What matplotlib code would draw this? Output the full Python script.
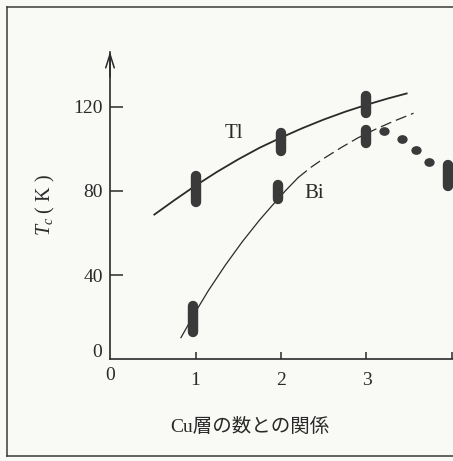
import matplotlib
matplotlib.use('Agg')
import matplotlib.pyplot as plt
from matplotlib.path import Path
from matplotlib.transforms import Affine2D
from matplotlib.lines import Line2D

# ---------------- data ----------------
tl_curve_x = [0.51, 0.75, 1.0, 1.25, 1.5, 1.75, 2.0, 2.25, 2.5, 2.75, 3.0, 3.25, 3.48]
tl_curve_t = [68.5, 75.5, 82.5, 89.0, 95.0, 100.5, 105.3, 109.8, 113.9, 117.6, 120.9, 123.9, 126.4]

bi_solid_x = [0.83, 1.0, 1.15, 1.35, 1.55, 1.75, 1.9, 2.05, 2.2]
bi_solid_t = [10.3, 22.5, 32.6, 44.8, 56.0, 66.2, 73.2, 80.0, 86.3]
bi_dash_x = [2.2, 2.35, 2.5, 2.7, 2.9, 3.1, 3.3, 3.55]
bi_dash_t = [86.3, 91.2, 95.4, 100.5, 105.2, 109.2, 112.8, 116.9]

tl_bar_x = [1.0, 2.0, 3.0]
tl_bar_lo = [72.4, 96.3, 114.6]
tl_bar_hi = [89.6, 110.0, 127.6]

bi_bar_x = [0.97, 1.97, 3.0, 3.95]
bi_bar_lo = [10.3, 73.8, 100.3, 80.0]
bi_bar_hi = [27.8, 85.5, 111.4, 94.8]

dots_x = [3.21, 3.42, 3.58, 3.73]
dots_t = [108.6, 104.8, 99.5, 93.8]

x_ticks = [1, 2, 3, 4]
x_tick_labels = ['1', '2', '3', '']
y_ticks = [40, 80, 120]
y_tick_labels = ['40', '80', '120']

x_label = 'Cu層の数との関係'
y_label = r'$T_c$ ( K )'
label_tl = 'Tl'
label_bi = 'Bi'

# ---------------- style ----------------
paper = '#f9f9f6'
ink = '#2a2a2a'
mark = '#3a3a3a'
serif = ['Liberation Serif', 'DejaVu Serif']

plt.rcParams['font.family'] = serif
plt.rcParams['mathtext.fontset'] = 'custom'
plt.rcParams['mathtext.rm'] = 'Liberation Serif'
plt.rcParams['mathtext.it'] = 'Liberation Serif:italic'

W_PX, H_PX = 453, 461
fig = plt.figure(figsize=(W_PX / 100, H_PX / 100), dpi=100, facecolor=paper)

x0_px, y0_px, top_px = 110, 359.3, 51.7
ax = fig.add_axes([x0_px / W_PX, (H_PX - y0_px) / H_PX,
                   (W_PX - x0_px) / W_PX, (y0_px - top_px) / H_PX])
ax.set_facecolor('none')
ax.set_xlim(0, (W_PX - x0_px) / 85.5)
ax.set_ylim(0, (y0_px - top_px) / 2.105)

for s in ['top', 'right']:
    ax.spines[s].set_visible(False)
for s in ['left', 'bottom']:
    ax.spines[s].set_color(ink)
    ax.spines[s].set_linewidth(1.2)

ax.set_xticks(x_ticks)
ax.set_xticklabels(x_tick_labels)
ax.set_yticks(y_ticks)
ax.set_yticklabels(y_tick_labels)
ax.tick_params(axis='x', direction='in', length=5, width=1.1, pad=9.5,
               labelsize=14, colors=ink)
ax.tick_params(axis='y', direction='in', length=9.5, width=1.1, pad=5,
               labelsize=14, colors=ink)

# zero labels
ax.annotate('0', xy=(0, 0), xycoords='data', xytext=(-13, 7),
            textcoords='offset pixels', ha='center', va='center',
            fontsize=14, color=ink, annotation_clip=False)
ax.annotate('0', xy=(0, 0), xycoords='data', xytext=(0, -16),
            textcoords='offset pixels', ha='center', va='center',
            fontsize=14, color=ink, annotation_clip=False)

# arrow on y axis
ymax = ax.get_ylim()[1]
ax.annotate('', xy=(0, ymax), xytext=(0, ymax - 12), xycoords='data',
            arrowprops=dict(arrowstyle='->,head_length=0.7,head_width=0.22',
                            lw=1.1, color=ink, mutation_scale=14,
                            shrinkA=0, shrinkB=0),
            annotation_clip=False)

# curves
ax.plot(tl_curve_x, tl_curve_t, color=ink, lw=1.3, solid_capstyle='butt')
ax.plot(bi_solid_x, bi_solid_t, color=ink, lw=0.9)
ax.plot(bi_dash_x, bi_dash_t, color=ink, lw=0.9, dashes=(9, 4))

# capsule bars
bar_lw = 7.5
cap_px = bar_lw / 2 * fig.dpi / 72
px_per_unit = ax.transData.transform((0, 1))[1] - ax.transData.transform((0, 0))[1]
cap = cap_px / px_per_unit
for xs, los, his in [(tl_bar_x, tl_bar_lo, tl_bar_hi), (bi_bar_x, bi_bar_lo, bi_bar_hi)]:
    for x, lo, hi in zip(xs, los, his):
        ax.plot([x, x], [lo + cap, hi - cap], color=mark, lw=bar_lw,
                solid_capstyle='round', clip_on=False)

# elliptical dots
ell = Path.unit_circle().transformed(Affine2D().scale(1.0, 0.85))
ax.plot(dots_x, dots_t, ls='none', marker=ell, markersize=7.4,
        color=mark, markeredgewidth=0, clip_on=False)

# series labels
ax.text(1.444, 107.5, label_tl, ha='center', va='center', fontsize=15, color=ink)
ax.text(2.39, 79.0, label_bi, ha='center', va='center', fontsize=15, color=ink)

# axis labels
fig.text(45 / W_PX, 1 - 205 / H_PX, y_label, rotation=90, ha='center', va='center',
         fontsize=14.5, color=ink)
fig.text(250 / W_PX, 1 - 427 / H_PX, x_label, ha='center', va='center',
         fontsize=14, color=ink, family=['Liberation Serif', 'Noto Sans CJK JP'])

# frame of the figure (right edge is cut off)
fl, ft, fb = 7 / W_PX, 1 - 7 / H_PX, 1 - 456 / H_PX
for xs, ys in [([fl, fl], [fb, ft]), ([fl, 1.01], [ft, ft]), ([fl, 1.01], [fb, fb])]:
    fig.add_artist(Line2D(xs, ys, transform=fig.transFigure, color='#3a3a3a', lw=1.1))

fig.savefig('out.png', dpi=100, facecolor=paper)
